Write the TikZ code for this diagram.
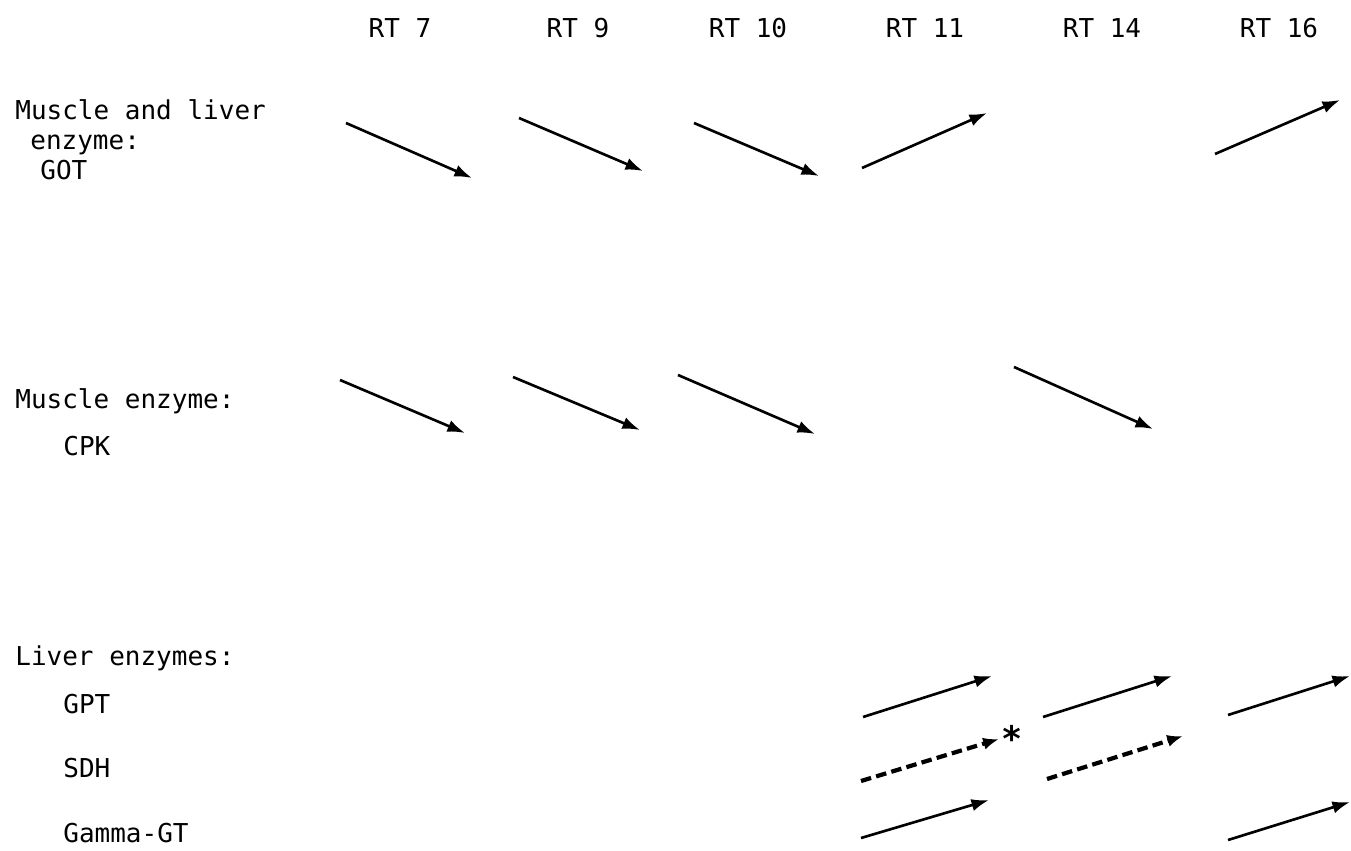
\documentclass[tikz,border=0pt]{standalone}
\usepackage{fontspec}
\setmainfont{DejaVu Sans Mono}
\usetikzlibrary{arrows.meta}
\tikzset{
  lbl/.style={anchor=base west, inner sep=0pt, font=\fontsize{14.8}{16}\selectfont},
  hdr/.style={anchor=base, inner sep=0pt, font=\fontsize{14.8}{16}\selectfont},
  trend/.style={line width=1.5pt, -{Latex[length=10pt,width=7pt]}},
  dtrend/.style={line width=2.4pt, dash pattern=on 6pt off 3pt, -{Latex[length=9pt,width=7pt]}}
}
\begin{document}
\begin{tikzpicture}[x=0.02cm,y=-0.02cm]
\useasboundingbox (0,0) rectangle (1351,851);
% headers
\node[hdr] (h7)  at (400,38) {RT 7};
\node[hdr] (h9)  at (578,38) {RT 9};
\node[hdr] (h10) at (748,38) {RT 10};
\node[hdr] (h11) at (925,38) {RT 11};
\node[hdr] (h14) at (1102,38) {RT 14};
\node[hdr] (h16) at (1279,38) {RT 16};
% row labels
\node[lbl] (l1a) at (15,120) {Muscle and liver};
\node[lbl] (l1b) at (30,150) {enzyme:};
\node[lbl] (l1c) at (40,180) {GOT};
\node[lbl] (l2a) at (15,408) {Muscle enzyme:};
\node[lbl] (l2b) at (63,455) {CPK};
\node[lbl] (l3a) at (15,665) {Liver enzymes:};
\node[lbl] (l3b) at (63,713) {GPT};
\node[lbl] (l3c) at (63,777) {SDH};
\node[lbl] (l3d) at (63,842) {Gamma-GT};
\node[anchor=center, inner sep=0pt, font=\bfseries\fontsize{20}{20}\selectfont] (ast) at (1012,738) {*};
% GOT
\coordinate (g7s) at (346,123);  \coordinate (g7e) at (472,178);
\coordinate (g9s) at (519,118);  \coordinate (g9e) at (643,171);
\coordinate (g10s) at (694,123); \coordinate (g10e) at (819,176);
\coordinate (g11s) at (862,168); \coordinate (g11e) at (987,113);
\coordinate (g16s) at (1215,154);\coordinate (g16e) at (1340,100);
\draw[trend] (g7s) -- (g7e);
\draw[trend] (g9s) -- (g9e);
\draw[trend] (g10s) -- (g10e);
\draw[trend] (g11s) -- (g11e);
\draw[trend] (g16s) -- (g16e);
% CPK
\coordinate (c7s) at (340,380);  \coordinate (c7e) at (465,433);
\coordinate (c9s) at (513,377);  \coordinate (c9e) at (640,430);
\coordinate (c10s) at (678,375); \coordinate (c10e) at (815,434);
\coordinate (c14s) at (1014,367);\coordinate (c14e) at (1153,429);
\draw[trend] (c7s) -- (c7e);
\draw[trend] (c9s) -- (c9e);
\draw[trend] (c10s) -- (c10e);
\draw[trend] (c14s) -- (c14e);
% GPT
\coordinate (p11s) at (863,717);  \coordinate (p11e) at (992,676);
\coordinate (p14s) at (1043,717); \coordinate (p14e) at (1172,676);
\coordinate (p16s) at (1228,715); \coordinate (p16e) at (1350,676);
\draw[trend] (p11s) -- (p11e);
\draw[trend] (p14s) -- (p14e);
\draw[trend] (p16s) -- (p16e);
% SDH
\coordinate (s11s) at (861,781);  \coordinate (s11e) at (999,739);
\coordinate (s14s) at (1047,779); \coordinate (s14e) at (1183,736);
\draw[dtrend] (s11s) -- (s11e);
\draw[dtrend] (s14s) -- (s14e);
% Gamma-GT
\coordinate (q11s) at (861,838);  \coordinate (q11e) at (989,800);
\coordinate (q16s) at (1228,840); \coordinate (q16e) at (1350,802);
\draw[trend] (q11s) -- (q11e);
\draw[trend] (q16s) -- (q16e);
\end{tikzpicture}
\end{document}
